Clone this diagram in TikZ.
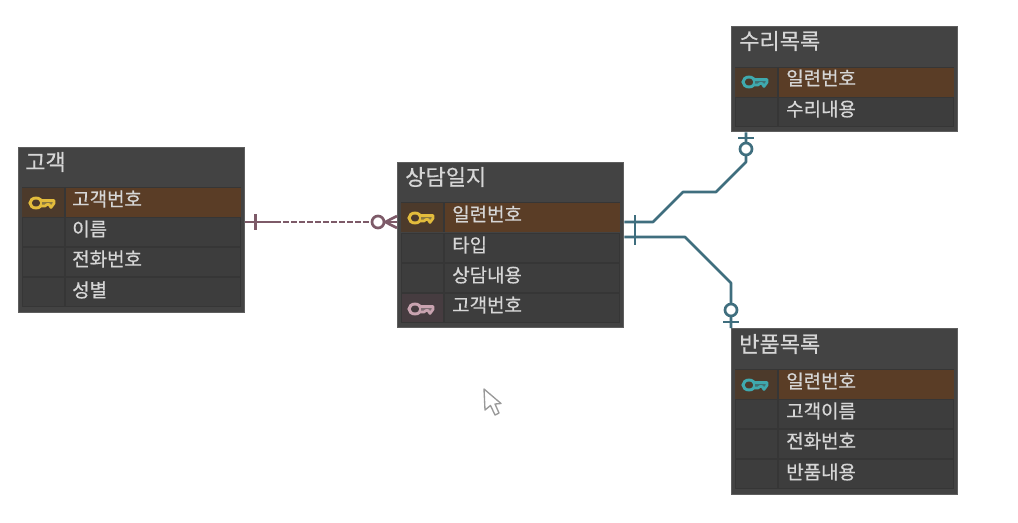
\documentclass[tikz,border=0pt]{standalone}
\usepackage{fontspec}
\setmainfont{Noto Sans CJK KR}[FakeBold=0.6]
\definecolor{boxfill}{HTML}{434343}
\definecolor{boxedge}{HTML}{5E5E5E}
\definecolor{rowfill}{HTML}{3D3D3D}
\definecolor{rowline}{HTML}{363636}
\definecolor{pkrow}{HTML}{5A3D26}
\definecolor{pkcell}{HTML}{4C3A2B}
\definecolor{fkcell}{HTML}{463C40}
\definecolor{txt}{HTML}{D6D6D6}
\definecolor{goldkey}{HTML}{E3BC3C}
\definecolor{pinkkey}{HTML}{C9A3B0}
\definecolor{tealkey}{HTML}{3FA9AE}
\definecolor{teal1}{HTML}{3F6E7E}
\definecolor{plum}{HTML}{7D5A68}
\tikzset{
  x=0.75pt,y=-0.75pt,
  tablebox/.style={draw=boxedge,line width=1pt,fill=boxfill,anchor=north west,inner sep=0pt,minimum width=169.5pt},
  titletext/.style={text=txt,anchor=west,inner sep=0pt,font=\fontsize{16.5}{18}\selectfont},
  rowtext/.style={text=txt,anchor=west,inner sep=0pt,font=\fontsize{14.2}{16}\selectfont},
  tealline/.style={draw=teal1,line width=2pt,line join=round},
  plumline/.style={draw=plum,line width=2pt},
  portcircle/.style={circle,line width=2pt,fill=white,minimum size=9pt,inner sep=0pt},
}
% key icon centred at px position
\newcommand{\keyicon}[3]{%
  \begin{scope}[shift={(#1,#2)}]
    \draw[#3,line width=2.2pt] (-6,0) ellipse[x radius=6,y radius=5];
    \draw[#3,line width=2pt,line join=round,fill=#3!45!boxfill] (0,-2.5) -- (12,-2.5) -- (12,0.5) -- (9,4.5) -- (7,1.5) -- (5,1.5) -- (3,3) -- (0,3);
  \end{scope}}
% rowbg{x}{top}{kind 0 plain,1 primary,2 foreign}
\newcommand{\rowbg}[3]{%
  \fill[rowline] (#1+4,#2) rectangle (#1+223,#2+30);
  \fill[rowfill] (#1+5,#2+1) rectangle (#1+46,#2+29);
  \fill[rowfill] (#1+48,#2+1) rectangle (#1+222,#2+29);
  \ifnum#3=1
    \fill[pkcell] (#1+4,#2+0.5) rectangle (#1+46,#2+29.5);
    \fill[pkrow] (#1+48,#2+0.5) rectangle (#1+223,#2+29.5);
  \fi
  \ifnum#3=2
    \fill[fkcell] (#1+5,#2+1) rectangle (#1+46,#2+29);
  \fi}
\begin{document}
\begin{tikzpicture}
\useasboundingbox (0,0) rectangle (1018,522);
\fill[white] (0,0) rectangle (1018,522);

% --- customer table
\node[tablebox,minimum height=123.75pt] (customer) at (18,147) {};
\rowbg{18}{187}{1}\rowbg{18}{217}{0}\rowbg{18}{247}{0}\rowbg{18}{277}{0}
\node[titletext] (customerT) at (25,162) {고객};
\keyicon{42}{203}{goldkey}
\node[rowtext] (c1) at (72,199) {고객번호};
\node[rowtext] (c2) at (72,229) {이름};
\node[rowtext] (c3) at (72,259) {전화번호};
\node[rowtext] (c4) at (72,290) {성별};

% --- consultation log table
\node[tablebox,minimum height=123.75pt] (log) at (397,162) {};
\rowbg{397}{202}{1}\rowbg{397}{233}{0}\rowbg{397}{263}{0}\rowbg{397}{293}{2}
\node[titletext] (logT) at (405,177) {상담일지};
\keyicon{421}{218}{goldkey}
\keyicon{421}{309}{pinkkey}
\node[rowtext] (l1) at (452,214) {일련번호};
\node[rowtext] (l2) at (452,245) {타입};
\node[rowtext] (l3) at (452,275) {상담내용};
\node[rowtext] (l4) at (452,305) {고객번호};

% --- repair list table
\node[tablebox,minimum height=78.75pt] (repair) at (731,26) {};
\rowbg{731}{67}{1}\rowbg{731}{97}{0}
\node[titletext] (repairT) at (739,41) {수리목록};
\keyicon{755}{82}{tealkey}
\node[rowtext] (r1) at (786,78) {일련번호};
\node[rowtext] (r2) at (786,109) {수리내용};

% --- return list table
\node[tablebox,minimum height=124.5pt] (return) at (731,328) {};
\rowbg{731}{369}{1}\rowbg{731}{399}{0}\rowbg{731}{429}{0}\rowbg{731}{459}{0}
\node[titletext] (returnT) at (739,344) {반품목록};
\keyicon{755}{385}{tealkey}
\node[rowtext] (b1) at (786,381) {일련번호};
\node[rowtext] (b2) at (786,411) {고객이름};
\node[rowtext] (b3) at (786,441) {전화번호};
\node[rowtext] (b4) at (786,472) {반품내용};

% --- ports on the table edges
\coordinate (customerP) at (customer.east |- 0,222);
\coordinate (logW) at (log.west |- 0,222);
\coordinate (logE1) at (log.east |- 0,222);
\coordinate (logE2) at (log.east |- 0,237);
\coordinate (repairP) at (repair.south west -| 746,0);
\coordinate (returnP) at (return.north west);

% --- customer to log
\draw[plumline] (customerP) -- ++(30,0);
\draw[plumline] (customerP) ++(10,-8) -- ++(0,16);
\draw[plumline,dash pattern=on 4.5pt off 1.5pt] (customerP) ++(30,0) -- ++(97,0);
\node[portcircle,draw=plum] (crowC) at (378,222) {};
\draw[plumline] (crowC.east) -- (logW);
\draw[plumline] (crowC.east) -- (397,216);
\draw[plumline] (crowC.east) -- (397,228);

% --- log to repair
\draw[tealline] (logE1) -- (653,222) -- (683,192) -- (716,192) -- (746,162) -- (repairP);
\draw[tealline] (logE2) -- (685,237) -- (731,283) -- (returnP);
\draw[tealline] (635,215) -- (635,245);
\node[portcircle,draw=teal1] (repairC) at (746,149) {};
\draw[tealline] (738,138) -- (754,138);
\node[portcircle,draw=teal1] (returnC) at (731,310) {};
\draw[tealline] (723,322) -- (739,322);

% --- mouse cursor
\draw[draw=gray!80,fill=white,line width=1pt,line join=round]
  (484,389) -- (485,410) -- (490.5,405.5) -- (495,415) -- (499,413) -- (495,404) -- (501,403.5) -- cycle;
\end{tikzpicture}
\end{document}
